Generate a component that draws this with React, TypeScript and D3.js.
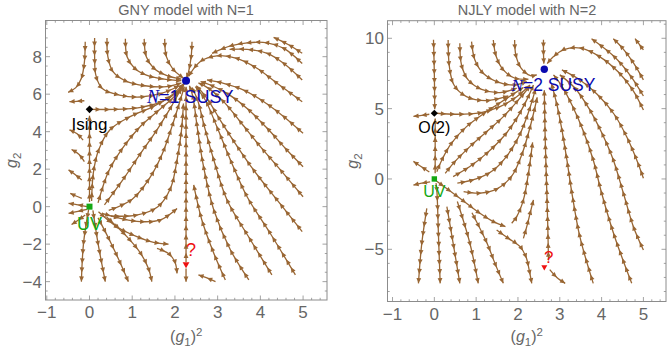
import { useEffect, useRef } from 'react';
import * as d3 from 'd3';

type Pt = [number, number];

// ---------- left panel: GNY model, N=1 (streamlines in (g1^2, g2), listed in flow direction) ----------
const gnyTopLines: Pt[][] = [
  [[-0.1, 8.8], [-0.12, 7.7], [-0.19, 6.85], [-0.32, 6.35], [-0.5, 6.1]],
  [[0.12, 9.0], [0.12, 8.0], [0.15, 7.0], [0.3, 6.3], [0.7, 5.95], [1.2, 5.85], [1.7, 6.05], [2.1, 6.45]],
  [[0.41, 9.0], [0.43, 8.0], [0.55, 7.2], [0.85, 6.7], [1.3, 6.45], [1.8, 6.4], [2.15, 6.6]],
  [[0.84, 8.95], [0.88, 8.0], [1.05, 7.4], [1.35, 7.0], [1.75, 6.8], [2.15, 6.72]],
  [[1.28, 8.95], [1.33, 8.0], [1.5, 7.4], [1.8, 7.0], [2.15, 6.8]],
  [[1.76, 8.95], [1.8, 8.0], [1.95, 7.35], [2.2, 6.85]],
  [[2.4, 8.8], [2.38, 8.0], [2.32, 7.2], [2.27, 6.85]],
];

const gnyTopRightLines: Pt[][] = [
  [[4.98, 8.18], [4.65, 8.65], [4.31, 9.03]],
  [[4.98, 7.64], [4.55, 8.44], [4.16, 8.74], [3.69, 8.74], [3.3, 8.57], [2.87, 8.18]],
  [[4.98, 6.76], [4.55, 7.64], [4.16, 8.18], [3.69, 8.39], [3.28, 8.39]],
  [[4.98, 5.6], [4.39, 6.58], [3.92, 7.38], [3.45, 7.91], [2.98, 8.04], [2.59, 7.73], [2.32, 6.95]],
];

const gnyRightLines: Pt[][] = [
  [[5.0, 3.91], [4.55, 4.8], [4.08, 5.6], [3.61, 6.22], [3.14, 6.58], [2.75, 6.76]],
  [[5.0, 2.13], [4.62, 3.02], [4.16, 4.18], [3.69, 5.24], [3.22, 6.04], [2.83, 6.49], [2.6, 6.67]],
  [[5.0, 0.53], [4.47, 1.96], [4.0, 3.2], [3.53, 4.53], [3.14, 5.6], [2.79, 6.31], [2.55, 6.6]],
  [[4.98, -1.33], [4.39, 0.36], [3.84, 1.96], [3.41, 3.38], [3.06, 4.62], [2.75, 5.78], [2.5, 6.45]],
  [[4.82, -3.64], [4.23, -1.42], [3.69, 0.53], [3.3, 2.49], [2.98, 4.27], [2.71, 5.69], [2.48, 6.4]],
  [[4.27, -3.64], [3.77, -1.78], [3.22, 0.36], [2.91, 2.49], [2.69, 4.27], [2.53, 5.69], [2.4, 6.36]],
  [[3.73, -3.91], [3.3, -2.31], [2.91, -0.18], [2.67, 2.13], [2.52, 4.27], [2.42, 5.87], [2.34, 6.45]],
  [[3.18, -3.91], [2.91, -2.49], [2.63, -0.71], [2.48, 0.71], [2.44, 1.16]],
  [[2.95, -4.0], [2.75, -3.8], [2.55, -3.64]],
  [[2.26, -2.95], [2.26, -1.0], [2.26, 1.5], [2.26, 4.0], [2.26, 6.4]],
  [[2.26, -3.3], [2.26, -3.7], [2.26, -4.0]],
];

const gnyLeftLines: Pt[][] = [
  [[0.05, 5.19], [0.6, 5.19], [1.2, 5.3], [1.7, 5.6], [2.05, 6.1], [2.22, 6.55]],
  [[-0.12, 5.65], [-0.3, 5.62], [-0.47, 5.6]],
  [[0.0, 0.25], [0.0, 1.5], [0.0, 3.0], [0.0, 4.85]],
  [[-0.15, 3.55], [-0.3, 3.9], [-0.47, 4.1]],
  [[-0.12, 2.4], [-0.25, 2.8], [-0.42, 3.05]],
  [[-0.18, 1.42], [-0.33, 1.7], [-0.49, 1.96]],
  [[-0.18, 0.44], [-0.33, 0.58], [-0.45, 0.71]],
  [[-0.06, 0.0], [-0.27, 0.1], [-0.49, 0.18]],
  [[-0.06, -0.14], [-0.27, -0.25], [-0.49, -0.36]],
  [[-0.1, -0.45], [-0.25, -0.7], [-0.42, -0.95]],
];

const gnyUvLines: Pt[][] = [
  [[0.05, 0.3], [0.09, 1.8], [0.21, 3.0], [0.48, 4.1], [0.95, 4.8], [1.5, 5.35], [1.95, 6.0], [2.2, 6.55]],
  [[0.2, 0.2], [0.45, 1.9], [0.8, 3.2], [1.2, 4.3], [1.65, 5.2], [2.0, 5.9], [2.2, 6.5]],
  [[0.35, 0.1], [0.8, 1.5], [1.2, 2.85], [1.58, 4.1], [1.88, 5.2], [2.15, 6.3]],
  [[0.45, -0.2], [1.0, 0.4], [1.4, 1.5], [1.7, 2.8], [1.92, 4.2], [2.1, 5.5], [2.22, 6.4]],
  [[0.5, -0.5], [1.1, -0.45], [1.6, 0.0], [1.9, 1.0], [2.05, 2.5], [2.15, 4.0], [2.2, 5.5]],
  [[0.29, -0.36], [0.72, -0.62], [1.19, -0.8], [1.66, -0.71], [2.05, -0.1]],
  [[0.21, -0.27], [0.64, -1.07], [1.11, -1.6], [1.5, -1.9], [1.85, -2.0]],
  [[1.58, -2.22], [1.85, -2.5], [2.0, -2.95], [2.05, -3.56]],
  [[0.4, -0.55], [0.875, -1.6], [1.2, -2.5], [1.38, -3.3], [1.46, -4.0]],
  [[-0.02, -0.15], [-0.14, -1.96], [-0.19, -4.0]],
  [[0.08, -0.2], [0.2, -1.96], [0.37, -4.0]],
  [[0.2, -0.6], [0.45, -1.7], [0.7, -2.9], [0.91, -4.0]],
];

const gnySusy: Pt = [2.26, 6.72];
const gnyIsing: Pt = [0, 5.19];
const gnyUv: Pt = [0, 0];
const gnyUnknown: Pt = [2.26, -3.11];

// ---------- right panel: NJLY model, N=2 ----------
const njlyTopLines: Pt[][] = [
  [[-0.02, 9.9], [0.0, 7.5], [0.01, 4.95]],
  [[0.33, 9.88], [0.36, 7.99], [0.47, 6.68], [0.77, 5.85], [1.25, 5.57], [1.77, 5.9]],
  [[0.61, 9.64], [0.65, 8.1], [0.81, 7.04], [1.13, 6.37], [1.57, 6.14], [1.97, 6.45]],
  [[0.89, 9.76], [0.97, 8.46], [1.17, 7.51], [1.49, 6.92], [1.89, 6.68], [2.21, 6.92]],
  [[1.41, 9.88], [1.48, 8.7], [1.65, 7.75], [1.93, 7.16], [2.25, 7.09]],
  [[1.92, 9.88], [1.95, 8.8], [2.07, 7.9], [2.3, 7.35], [2.45, 7.4]],
  [[2.61, 9.9], [2.61, 9.0], [2.62, 8.2]],
];

const njlyCornerLines: Pt[][] = [
  [[0.06, 4.67], [0.53, 4.6], [1.09, 4.7], [1.57, 5.14], [1.97, 5.85], [2.29, 6.68]],
  [[-0.12, 4.6], [-0.3, 4.52], [-0.5, 4.45]],
  [[0.02, 0.4], [0.02, 2.3], [0.02, 4.3]],
  [[-0.12, 0.5], [-0.3, 0.85], [-0.5, 1.25]],
  [[-0.1, -0.2], [-0.3, -0.3], [-0.5, -0.43]],
];

const njlyUvLines: Pt[][] = [
  [[0.06, 0.52], [0.18, 1.35], [0.41, 2.54], [0.77, 3.72], [1.25, 4.79], [1.73, 5.73], [2.13, 6.5]],
  [[0.26, 0.4], [0.49, 1.23], [0.85, 2.3], [1.25, 3.36], [1.65, 4.43], [2.01, 5.62], [2.29, 6.61]],
  [[0.45, 0.17], [0.85, 0.88], [1.25, 1.82], [1.65, 3.0], [1.97, 4.31], [2.21, 5.62], [2.37, 6.68]],
  [[0.55, -0.3], [1.0, 0.0], [1.4, 0.6], [1.75, 1.7], [2.05, 3.2], [2.27, 4.9], [2.42, 6.4]],
  [[0.7, -0.9], [1.1, -1.0], [1.5, -0.7], [1.85, 0.2], [2.1, 1.8], [2.3, 3.8], [2.46, 5.8]],
  [[0.05, -0.15], [0.61, -1.37], [1.09, -2.44], [1.41, -3.03], [1.7, -3.38]],
  [[1.85, -3.15], [1.97, -2.68], [2.13, -1.49], [2.25, 0.4], [2.35, 2.6]],
  [[2.13, -4.22], [2.21, -3.39], [2.29, -2.44], [2.37, -1.49]],
  [[1.49, -3.63], [1.77, -4.22], [2.05, -4.81], [2.2, -5.6], [2.27, -6.5], [2.33, -7.42]],
  [[-0.18, -2.09], [-0.3, -4.57], [-0.38, -7.42]],
  [[0.04, -0.3], [0.06, -0.78], [0.1, -4.1], [0.14, -7.42]],
  [[0.3, -1.97], [0.45, -4.57], [0.61, -7.42]],
  [[0.55, -1.6], [0.85, -4.57], [1.05, -7.42]],
  [[0.9, -2.4], [1.25, -4.5], [1.45, -6.0], [1.65, -7.42]],
];

const njlyRightLines: Pt[][] = [
  [[2.73, -5.8], [2.71, -3.0], [2.68, 0.0], [2.65, 3.0], [2.63, 6.3]],
  [[2.76, -6.45], [2.93, -7.0], [3.13, -7.42]],
  [[3.8, -7.42], [3.48, -4.1], [3.29, -1.0], [3.17, 1.35], [3.05, 3.5], [2.93, 5.3], [2.8, 6.8]],
  [[4.72, -7.42], [4.3, -4.0], [4.0, -1.0], [3.8, 1.35], [3.55, 3.5], [3.3, 5.2], [3.05, 6.6], [2.85, 7.4]],
  [[5.0, -5.05], [4.76, -3.39], [4.52, -1.0], [4.28, 1.35], [4.0, 3.3], [3.7, 5.0], [3.35, 6.5], [3.0, 7.4]],
  [[5.0, 0.05], [4.84, 1.35], [4.6, 3.0], [4.3, 4.6], [3.9, 6.0], [3.45, 7.1], [3.05, 7.75]],
  [[5.0, 4.9], [4.75, 6.3], [4.4, 7.6], [3.95, 8.7], [3.5, 9.3], [3.1, 9.2], [2.85, 8.7], [2.7, 8.2]],
  [[5.0, 5.9], [4.7, 7.3], [4.3, 8.7], [3.76, 9.97]],
  [[5.0, 7.04], [4.75, 8.3], [4.5, 9.3], [4.28, 9.97]],
  [[5.0, 9.17], [4.8, 9.97]],
];

const njlySusy: Pt = [2.63, 7.8];
const njlyO2: Pt = [0, 4.67];
const njlyUv: Pt = [0, 0];
const njlyUnknown: Pt = [2.63, -6.3];

const xTicks = [-1, 0, 1, 2, 3, 4, 5];
const gnyYTicks = [-4, -2, 0, 2, 4, 6, 8];
const njlyYTicks = [-5, 0, 5, 10];

const BROWN = '#996633';
const FRAME = '#8c8c8c';
const LABEL = '#666666';
const BLUE = '#0a0ab0';
const GREEN = '#14a814';
const RED = '#ee1111';
const FONT = '"Liberation Sans", Arial, sans-serif';

interface Marker {
  at: Pt;
  shape: 'circle' | 'diamond' | 'square' | 'triangle';
  size: number;
  color: string;
  label: string;
  labelSize: number;
  dx: number;
  dy: number;
  anchor: string;
  script?: boolean;
}

interface PanelCfg {
  title: string;
  titleX: number;
  left: number;
  right: number;
  top: number;
  bottom: number;
  xDomain: [number, number];
  yDomain: [number, number];
  yTicks: number[];
  yMinorStep: number;
  ylabelX: number;
  lines: Pt[][];
  markers: Marker[];
}

const fmt = (v: number) => (v < 0 ? '\u2212' + Math.abs(v) : String(v));

function drawPanel(root: d3.Selection<SVGSVGElement, unknown, null, undefined>, cfg: PanelCfg) {
  const x = d3.scaleLinear().domain(cfg.xDomain).range([cfg.left, cfg.right]);
  const y = d3.scaleLinear().domain(cfg.yDomain).range([cfg.bottom, cfg.top]);
  const g = root.append('g');

  // frame
  g.append('rect')
    .attr('x', cfg.left)
    .attr('y', cfg.top)
    .attr('width', cfg.right - cfg.left)
    .attr('height', cfg.bottom - cfg.top)
    .attr('fill', 'none')
    .attr('stroke', FRAME)
    .attr('stroke-width', 1);

  // ticks on all four sides
  const ticks = g.append('g').attr('stroke', FRAME).attr('stroke-width', 0.8);
  const xMinor = d3.range(-1, 5.61, 0.2).filter((v) => v > cfg.xDomain[0] && v < cfg.xDomain[1]);
  xMinor.forEach((v) => {
    const major = xTicks.some((t) => Math.abs(t - v) < 1e-6);
    const len = major ? 4.5 : 2.2;
    const px = x(v);
    ticks.append('line').attr('x1', px).attr('x2', px).attr('y1', cfg.bottom).attr('y2', cfg.bottom - len);
    ticks.append('line').attr('x1', px).attr('x2', px).attr('y1', cfg.top).attr('y2', cfg.top + len);
  });
  const yMinor = d3
    .range(Math.ceil(cfg.yDomain[0] / cfg.yMinorStep) * cfg.yMinorStep, cfg.yDomain[1], cfg.yMinorStep);
  yMinor.forEach((v) => {
    const major = cfg.yTicks.some((t) => Math.abs(t - v) < 1e-6);
    const len = major ? 4.5 : 2.2;
    const py = y(v);
    ticks.append('line').attr('x1', cfg.left).attr('x2', cfg.left + len).attr('y1', py).attr('y2', py);
    ticks.append('line').attr('x1', cfg.right).attr('x2', cfg.right - len).attr('y1', py).attr('y2', py);
  });

  // tick labels
  xTicks.forEach((t) => {
    g.append('text')
      .attr('x', x(t))
      .attr('y', cfg.bottom + 18)
      .attr('text-anchor', 'middle')
      .attr('font-family', FONT)
      .attr('font-size', 17)
      .attr('fill', LABEL)
      .text(fmt(t));
  });
  cfg.yTicks.forEach((t) => {
    g.append('text')
      .attr('x', cfg.left - 3.5)
      .attr('y', y(t) + 6)
      .attr('text-anchor', 'end')
      .attr('font-family', FONT)
      .attr('font-size', 17)
      .attr('fill', LABEL)
      .text(fmt(t));
  });

  // title
  g.append('text')
    .attr('x', cfg.titleX)
    .attr('y', 15)
    .attr('text-anchor', 'middle')
    .attr('font-family', FONT)
    .attr('font-size', 14.5)
    .attr('fill', LABEL)
    .text(cfg.title);

  // axis labels
  const xl = g.append('text')
    .attr('x', (cfg.left + cfg.right) / 2)
    .attr('y', 342)
    .attr('text-anchor', 'middle')
    .attr('font-family', FONT)
    .attr('font-size', 16)
    .attr('fill', LABEL);
  xl.append('tspan').text('(');
  xl.append('tspan').attr('font-style', 'italic').text('g');
  xl.append('tspan').attr('font-size', 11.5).attr('dy', 3.5).text('1');
  xl.append('tspan').attr('dy', -3.5).text(')');
  xl.append('tspan').attr('font-size', 11.5).attr('dy', -6.5).text('2');

  const yl = g.append('text')
    .attr('transform', `translate(${cfg.ylabelX},${(cfg.top + cfg.bottom) / 2}) rotate(-90)`)
    .attr('text-anchor', 'middle')
    .attr('font-family', FONT)
    .attr('font-size', 16)
    .attr('fill', LABEL);
  yl.append('tspan').attr('font-style', 'italic').text('g');
  yl.append('tspan').attr('font-size', 11.5).attr('dy', 3.5).text('2');

  // streamlines with arrowheads along them
  const line = d3
    .line<Pt>()
    .x((d) => x(d[0]))
    .y((d) => y(d[1]))
    .curve(d3.curveCatmullRom.alpha(0.5));
  const flows = g.append('g');
  cfg.lines.forEach((pts) => {
    const path = flows
      .append('path')
      .attr('d', line(pts))
      .attr('fill', 'none')
      .attr('stroke', BROWN)
      .attr('stroke-width', 1.3);
    const node = path.node() as SVGPathElement;
    const len = node.getTotalLength();
    const n = Math.max(1, Math.round(len / 9));
    const step = len / n;
    for (let i = 1; i <= n; i++) {
      const s = i * step;
      const p = node.getPointAtLength(s);
      const q = node.getPointAtLength(Math.max(0, s - 1.5));
      let dx = p.x - q.x;
      let dy = p.y - q.y;
      const m = Math.hypot(dx, dy) || 1;
      dx /= m;
      dy /= m;
      const bx = p.x - dx * 5.2;
      const by = p.y - dy * 5.2;
      const w = 2.4;
      flows
        .append('polygon')
        .attr('points', `${p.x},${p.y} ${bx - dy * w},${by + dx * w} ${bx + dy * w},${by - dx * w}`)
        .attr('fill', BROWN);
    }
  });

  // fixed points
  const mk = g.append('g');
  cfg.markers.forEach((mkr) => {
    const cx = x(mkr.at[0]);
    const cy = y(mkr.at[1]);
    const s = mkr.size;
    if (mkr.shape === 'circle') {
      mk.append('circle').attr('cx', cx).attr('cy', cy).attr('r', s).attr('fill', mkr.color);
    } else if (mkr.shape === 'diamond') {
      mk.append('polygon')
        .attr('points', `${cx},${cy - s} ${cx + s},${cy} ${cx},${cy + s} ${cx - s},${cy}`)
        .attr('fill', mkr.color);
    } else if (mkr.shape === 'square') {
      mk.append('rect').attr('x', cx - s).attr('y', cy - s).attr('width', 2 * s).attr('height', 2 * s).attr('fill', mkr.color);
    } else {
      mk.append('polygon')
        .attr('points', `${cx - s},${cy - s * 0.8} ${cx + s},${cy - s * 0.8} ${cx},${cy + s}`)
        .attr('fill', mkr.color);
    }
    const t = mk
      .append('text')
      .attr('x', cx + mkr.dx)
      .attr('y', cy + mkr.dy)
      .attr('text-anchor', mkr.anchor)
      .attr('font-family', FONT)
      .attr('font-size', mkr.labelSize)
      .attr('fill', mkr.color);
    if (mkr.script) {
      t.append('tspan').attr('font-style', 'italic').attr('font-family', '"Liberation Serif", serif').text('N');
      t.append('tspan').text(mkr.label);
    } else {
      t.text(mkr.label);
    }
  });
}

export default function App() {
  const ref = useRef<SVGSVGElement>(null);

  useEffect(() => {
    const svg = d3.select(ref.current as SVGSVGElement);
    svg.selectAll('*').remove();

    drawPanel(svg, {
      title: 'GNY model with N=1',
      titleX: 186,
      left: 45.5,
      right: 327,
      top: 20.5,
      bottom: 300,
      xDomain: [-1.03, 5.56],
      yDomain: [-4.98, 9.93],
      yTicks: gnyYTicks,
      yMinorStep: 0.5,
      ylabelX: 17,
      lines: [...gnyTopLines, ...gnyTopRightLines, ...gnyRightLines, ...gnyLeftLines, ...gnyUvLines],
      markers: [
        { at: gnySusy, shape: 'circle', size: 4, color: BLUE, label: '=1 SUSY', labelSize: 18, dx: -39, dy: 22, anchor: 'start', script: true },
        { at: gnyIsing, shape: 'diamond', size: 3.8, color: '#000000', label: 'Ising', labelSize: 17, dx: 0, dy: 21, anchor: 'middle' },
        { at: gnyUv, shape: 'square', size: 3, color: GREEN, label: 'UV', labelSize: 18, dx: 0, dy: 23, anchor: 'middle' },
        { at: gnyUnknown, shape: 'triangle', size: 3.4, color: RED, label: '?', labelSize: 18, dx: 5, dy: -9, anchor: 'middle' },
      ],
    });

    drawPanel(svg, {
      title: 'NJLY model with N=2',
      titleX: 527,
      left: 387.5,
      right: 666,
      top: 20.7,
      bottom: 301.5,
      xDomain: [-1.12, 5.54],
      yDomain: [-8.71, 11.25],
      yTicks: njlyYTicks,
      yMinorStep: 1,
      ylabelX: 358,
      lines: [...njlyTopLines, ...njlyCornerLines, ...njlyUvLines, ...njlyRightLines],
      markers: [
        { at: njlySusy, shape: 'circle', size: 3.7, color: BLUE, label: '=2 SUSY', labelSize: 17.5, dx: -33, dy: 21.5, anchor: 'start', script: true },
        { at: njlyO2, shape: 'diamond', size: 3.6, color: '#000000', label: 'O(2)', labelSize: 16, dx: 0, dy: 20, anchor: 'middle' },
        { at: njlyUv, shape: 'square', size: 2.7, color: GREEN, label: 'UV', labelSize: 16, dx: 0, dy: 18, anchor: 'middle' },
        { at: njlyUnknown, shape: 'triangle', size: 3, color: RED, label: '?', labelSize: 17, dx: 4.5, dy: -5, anchor: 'middle' },
      ],
    });
  }, []);

  return (
    <svg
      ref={ref}
      width={667}
      height={348}
      style={{ position: 'absolute', left: 0, top: 0, background: '#ffffff' }}
    />
  );
}
